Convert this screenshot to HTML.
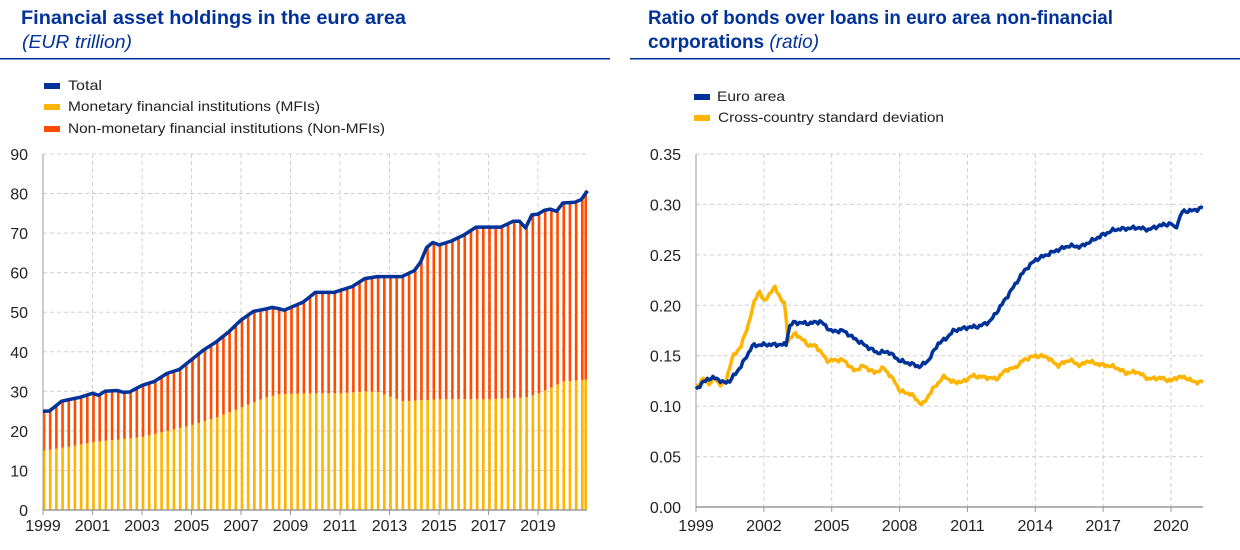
<!DOCTYPE html>
<html><head><meta charset="utf-8"><style>
body{margin:0;background:#fff;width:1240px;height:545px;overflow:hidden;font-family:"Liberation Sans",Arial,sans-serif}
</style></head><body>
<svg id="s" width="1240" height="545" xmlns="http://www.w3.org/2000/svg" font-family="Liberation Sans, Arial, sans-serif">
<text x="21" y="24" font-size="19" font-weight="bold" fill="#003299" textLength="385" lengthAdjust="spacingAndGlyphs">Financial asset holdings in the euro area</text>
<text x="22" y="48" font-size="18" font-style="italic" fill="#003299" textLength="110" lengthAdjust="spacingAndGlyphs">(EUR trillion)</text>
<rect x="0" y="58" width="610" height="1.5" fill="#003299"/>
<text x="648" y="24" font-size="19" font-weight="bold" fill="#003299" textLength="465" lengthAdjust="spacingAndGlyphs">Ratio of bonds over loans in euro area non-financial</text>
<text x="648" y="48" font-size="19" font-weight="bold" fill="#003299">corporations <tspan font-weight="normal" font-style="italic">(ratio)</tspan></text>
<rect x="630" y="58" width="610" height="1.5" fill="#003299"/>
<rect x="44" y="83" width="16" height="6" fill="#003299"/><text x="68" y="90" font-size="14" fill="#222" textLength="34" lengthAdjust="spacingAndGlyphs">Total</text>
<rect x="44" y="104" width="16" height="6" fill="#FFB400"/><text x="68" y="111" font-size="14" fill="#222" textLength="252" lengthAdjust="spacingAndGlyphs">Monetary financial institutions (MFIs)</text>
<rect x="44" y="126" width="16" height="6" fill="#FF4B00"/><text x="68" y="133" font-size="14" fill="#222" textLength="317" lengthAdjust="spacingAndGlyphs">Non-monetary financial institutions (Non-MFIs)</text>
<rect x="694" y="94" width="16" height="6" fill="#003299"/><text x="717" y="101" font-size="14" fill="#222" textLength="68" lengthAdjust="spacingAndGlyphs">Euro area</text>
<rect x="694" y="115" width="16" height="6" fill="#FFB400"/><text x="718" y="122" font-size="14" fill="#222" textLength="226" lengthAdjust="spacingAndGlyphs">Cross-country standard deviation</text>
<g id="g"></g>
</svg>
<script>
var g=document.getElementById('g'),h='';
function interp(k,x){for(var i=0;i<k.length-1;i++){if(x<=k[i+1][0]){var t=(x-k[i][0])/(k[i+1][0]-k[i][0]);return k[i][1]+t*(k[i+1][1]-k[i][1]);}}return k[k.length-1][1];}
var L0=43,LY0=510,LPX=24.75,LPY=3.956,LR=587;
for(var v=0;v<=90;v+=10){var y=LY0-v*LPY;
 if(v>0)h+='<line x1="43" x2="'+LR+'" y1="'+y+'" y2="'+y+'" stroke="#d0d0d0" stroke-dasharray="4,3"/>';
 h+='<text x="28" y="'+(y+6)+'" font-size="16" fill="#222" text-anchor="end">'+v+'</text>';}
for(var yr=1999;yr<=2019;yr+=2){var x=L0+(yr-1999)*LPX;
 if(yr>1999)h+='<line x1="'+x+'" x2="'+x+'" y1="154" y2="510" stroke="#d0d0d0" stroke-dasharray="4,3"/>';
 h+='<line x1="'+x+'" x2="'+x+'" y1="510" y2="515" stroke="#999"/>';
 h+='<text x="'+x+'" y="531" font-size="16" fill="#222" text-anchor="middle">'+yr+'</text>';}
var T=[[1999,25],[1999.25,25],[1999.75,27.5],[2000.5,28.5],[2001,29.5],[2001.25,29],[2001.5,30],[2002,30.2],[2002.4,29.5],[2003,31.5],[2003.5,32.5],[2004,34.5],[2004.5,35.5],[2005,38],[2005.5,40.5],[2006,42.5],[2006.5,45],[2007,48],[2007.5,50.2],[2008,50.8],[2008.3,51.3],[2008.75,50.5],[2009,51.2],[2009.5,52.5],[2010,55],[2010.75,55],[2011,55.5],[2011.5,56.5],[2012,58.5],[2012.5,59],[2013,59],[2013.5,59],[2014,60.5],[2014.3,63],[2014.6,68],[2015,67],[2015.5,68],[2016,69.5],[2016.5,71.5],[2017,71.5],[2017.5,71.5],[2018,73],[2018.25,73],[2018.5,71.3],[2018.75,74.6],[2019,74.8],[2019.4,76.3],[2019.75,75.5],[2020,77.6],[2020.5,77.8],[2020.75,78.5],[2021,80.7]];
var M=[[1999,15],[2000,16],[2001,17.2],[2002,17.8],[2003,18.5],[2004,20],[2005,21.5],[2006,23.5],[2007,26],[2008,28.5],[2008.5,29.3],[2010,29.5],[2011,29.5],[2012,30],[2012.5,29.8],[2013.5,27.5],[2015,28],[2017,28],[2018.5,28.5],[2019,29.5],[2020,32.5],[2021,33]];
var pts=[];
for(var q=0;q<89;q++){var yr=1999+q*0.25,x=L0+q*0.25*LPX,t=interp(T,yr),m=interp(M,yr);
 var xm=Math.min(x+1,LR-1.3);
 h+='<rect x="'+(xm-1.3)+'" y="'+(LY0-m*LPY)+'" width="2.6" height="'+(m*LPY)+'" fill="#FFB400"/>';
 h+='<rect x="'+(xm-1.3)+'" y="'+(LY0-t*LPY)+'" width="2.6" height="'+((t-m)*LPY)+'" fill="#FF4B00"/>';
 pts.push(x.toFixed(1)+','+(LY0-t*LPY).toFixed(1));}
h+='<line x1="43" x2="'+LR+'" y1="510" y2="510" stroke="#999" stroke-width="1.5"/><line x1="43" x2="43" y1="154" y2="510" stroke="#999"/>';
h+='<polyline points="'+pts.join(' ')+'" fill="none" stroke="#003299" stroke-width="3.5" stroke-linejoin="round"/>';
var R0=696,RY0=507,RPX=22.62,RPY=1008.6,RR=1203;
for(var i=0;i<=7;i++){var v=i*0.05,y=RY0-v*RPY;
 if(i>0)h+='<line x1="696" x2="'+RR+'" y1="'+y+'" y2="'+y+'" stroke="#d0d0d0" stroke-dasharray="4,3"/>';
 h+='<text x="681" y="'+(y+6)+'" font-size="16" fill="#222" text-anchor="end">'+v.toFixed(2)+'</text>';}
for(var yr=1999;yr<=2020;yr+=3){var x=R0+(yr-1999)*RPX;
 if(yr>1999)h+='<line x1="'+x+'" x2="'+x+'" y1="154" y2="507" stroke="#d0d0d0" stroke-dasharray="4,3"/>';
 h+='<line x1="'+x+'" x2="'+x+'" y1="507" y2="512" stroke="#999"/>';
 h+='<text x="'+x+'" y="531" font-size="16" fill="#222" text-anchor="middle">'+yr+'</text>';}
h+='<line x1="696" x2="'+RR+'" y1="507" y2="507" stroke="#999" stroke-width="1.5"/><line x1="696" x2="696" y1="154" y2="507" stroke="#999"/>';
var B=[[1999,0.117],[1999.5,0.127],[1999.9,0.128],[2000.2,0.123],[2000.5,0.125],[2001,0.14],[2001.5,0.16],[2002,0.161],[2003,0.161],[2003.1,0.178],[2003.3,0.183],[2004,0.182],[2004.5,0.184],[2005,0.174],[2005.5,0.175],[2006,0.167],[2006.5,0.16],[2007,0.153],[2007.5,0.154],[2008,0.145],[2008.5,0.142],[2008.9,0.139],[2009.3,0.146],[2009.7,0.162],[2010,0.166],[2010.4,0.175],[2011,0.178],[2011.5,0.179],[2012,0.184],[2012.5,0.2],[2013,0.217],[2013.5,0.234],[2014,0.245],[2014.5,0.25],[2015,0.255],[2015.5,0.259],[2016,0.258],[2016.5,0.264],[2017,0.27],[2017.5,0.275],[2018,0.276],[2018.5,0.277],[2019,0.275],[2019.5,0.279],[2020,0.281],[2020.2,0.276],[2020.5,0.293],[2021,0.294],[2021.41,0.297]];
var Y=[[1999,0.118],[1999.3,0.127],[1999.6,0.122],[1999.8,0.128],[2000.1,0.121],[2000.3,0.123],[2000.6,0.148],[2001,0.16],[2001.3,0.18],[2001.6,0.205],[2001.8,0.215],[2002,0.203],[2002.2,0.21],[2002.5,0.218],[2002.8,0.204],[2002.95,0.2],[2003.05,0.165],[2003.4,0.172],[2004,0.16],[2004.3,0.16],[2004.8,0.145],[2005.5,0.146],[2006,0.135],[2006.4,0.14],[2006.9,0.133],[2007.3,0.138],[2007.8,0.124],[2008,0.115],[2008.5,0.112],[2009,0.101],[2009.5,0.118],[2010,0.13],[2010.3,0.124],[2010.8,0.124],[2011.2,0.13],[2012,0.128],[2012.3,0.127],[2012.7,0.136],[2013.1,0.138],[2013.5,0.146],[2014,0.15],[2014.5,0.149],[2015,0.14],[2015.5,0.146],[2016,0.14],[2016.3,0.145],[2016.7,0.142],[2017.5,0.139],[2018,0.133],[2018.5,0.134],[2019,0.127],[2019.5,0.128],[2020,0.125],[2020.3,0.129],[2020.7,0.128],[2021,0.124],[2021.41,0.124]];
function line(K,c){var p=[];for(var i=0;i<=270;i++){var yr=1999+i/270*22.41;var v=interp(K,yr)+0.0012*Math.sin(i*2.3)+0.0008*Math.sin(i*5.1);p.push((R0+(yr-1999)*RPX).toFixed(1)+','+(RY0-v*RPY).toFixed(1));}
 return '<polyline points="'+p.join(' ')+'" fill="none" stroke="'+c+'" stroke-width="3.5" stroke-linejoin="round"/>';}
h+=line(Y,'#FFB400');h+=line(B,'#003299');
g.innerHTML=h;
</script>
</body></html>
